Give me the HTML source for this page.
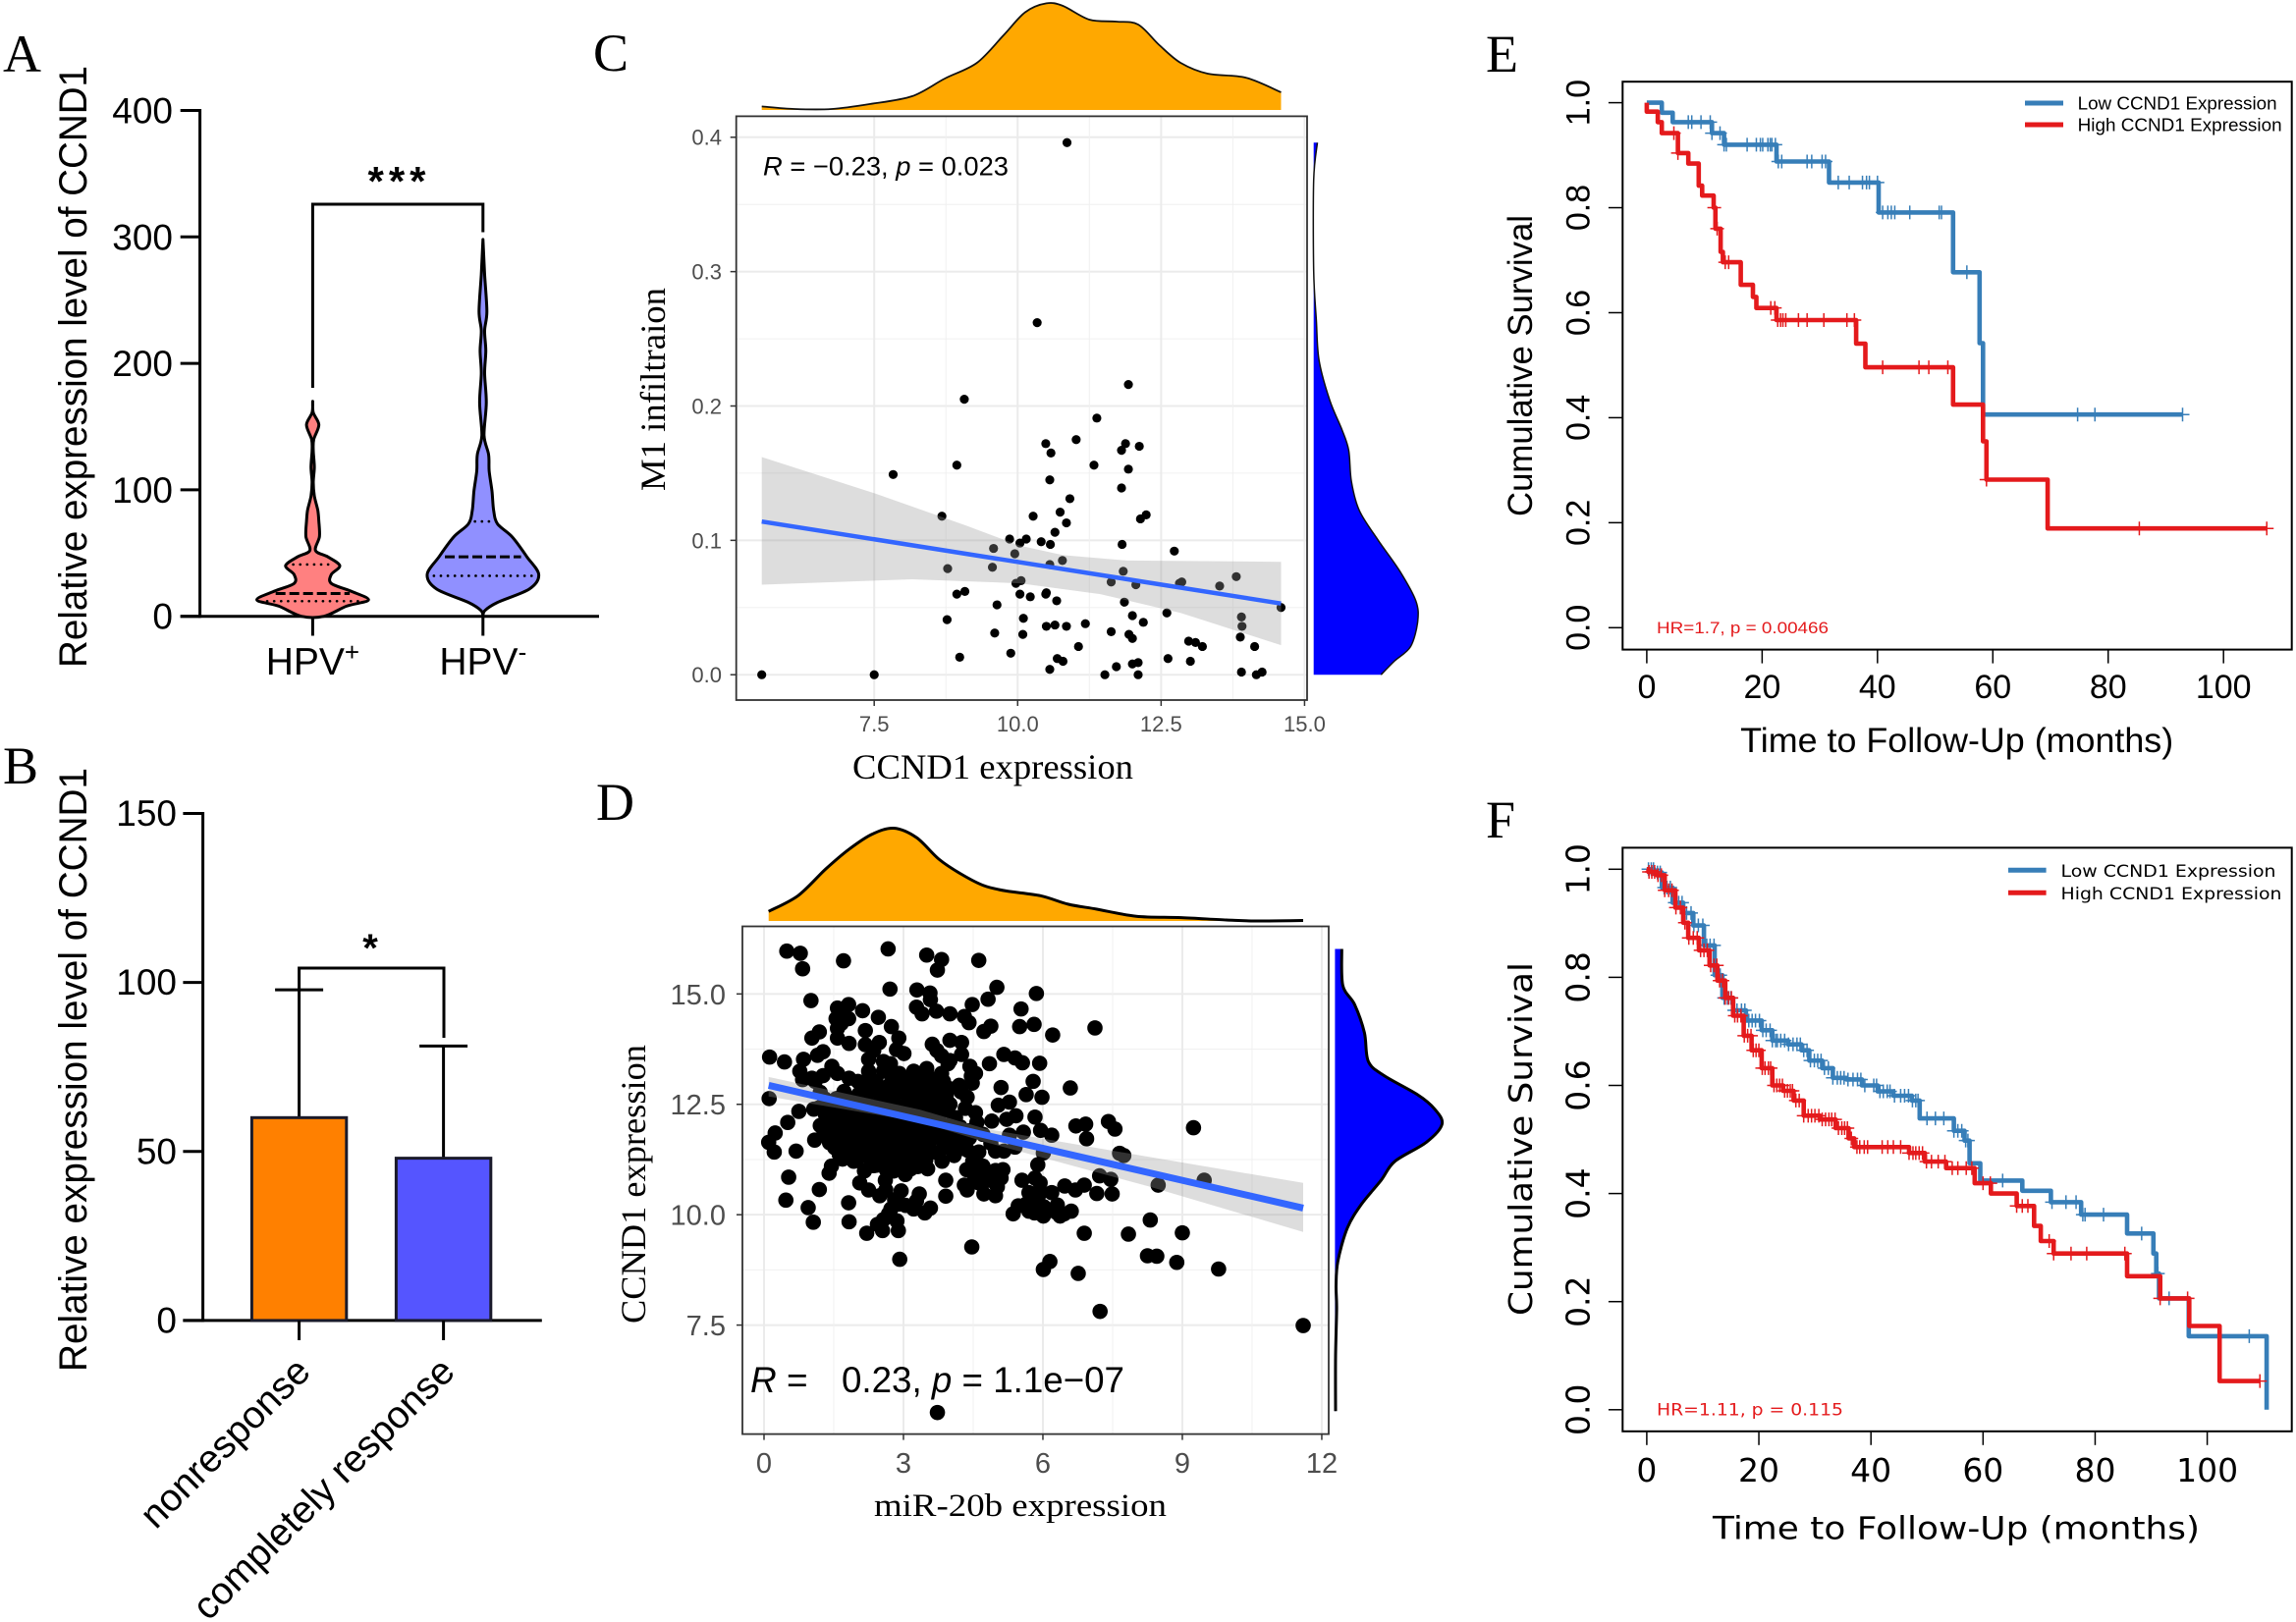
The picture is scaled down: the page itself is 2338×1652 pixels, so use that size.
<!DOCTYPE html>
<html lang="en">
<head>
<meta charset="utf-8">
<title>CCND1 expression figure</title>
<style>
html,body{margin:0;padding:0;background:#fff;}
#figure{display:block;width:2338px;height:1652px;background:#fff;}
text{font-family:"Liberation Sans",sans-serif;fill:#000;}
.serif{font-family:"Liberation Serif",serif;}
.dejavu{font-family:"DejaVu Sans",sans-serif;}
.panel-letter{font-family:"Liberation Serif",serif;font-size:54px;}
</style>
</head>
<body>
<svg id="figure" xmlns="http://www.w3.org/2000/svg" width="2338" height="1652" viewBox="0 0 2338 1652">
  <rect x="0" y="0" width="2338" height="1652" fill="#fff"/>

  <g id="panelA">
    <text class="panel-letter" x="3" y="73">A</text>
    <text transform="translate(88,373.5) rotate(-90)" text-anchor="middle" font-size="40" textLength="613" lengthAdjust="spacingAndGlyphs">Relative expression level of CCND1</text>
    <text x="406.5" y="199" text-anchor="middle" font-size="42" font-weight="bold" letter-spacing="5">***</text>
  </g>

  <g id="panelB">
    <text class="panel-letter" x="3" y="798">B</text>
    <text transform="translate(88,1089.5) rotate(-90)" text-anchor="middle" font-size="40" textLength="615" lengthAdjust="spacingAndGlyphs">Relative expression level of CCND1</text>
    <text x="377" y="979" text-anchor="middle" font-size="40" font-weight="bold">*</text>
  </g>

  <g id="panelC">
    <text class="panel-letter" x="604" y="72">C</text>
    <text class="serif" x="1011" y="793" text-anchor="middle" font-size="36" textLength="286" lengthAdjust="spacingAndGlyphs">CCND1 expression</text>
    <text class="serif" transform="translate(677,396.5) rotate(-90)" text-anchor="middle" font-size="36" textLength="207" lengthAdjust="spacingAndGlyphs">M1 infiltraion</text>
  </g>

  <g id="panelD">
    <text class="panel-letter" x="607" y="835">D</text>
    <text class="serif" x="1039" y="1544" text-anchor="middle" font-size="33" textLength="298" lengthAdjust="spacingAndGlyphs">miR-20b expression</text>
    <text class="serif" transform="translate(657,1206) rotate(-90)" text-anchor="middle" font-size="36" textLength="284" lengthAdjust="spacingAndGlyphs">CCND1 expression</text>
  </g>

  <g id="panelE">
    <text class="panel-letter" x="1513" y="73">E</text>
    <text x="1992.7" y="766" text-anchor="middle" font-size="35" textLength="441" lengthAdjust="spacingAndGlyphs">Time to Follow-Up (months)</text>
    <text transform="translate(1560,372.5) rotate(-90)" text-anchor="middle" font-size="35" textLength="307" lengthAdjust="spacingAndGlyphs">Cumulative Survival</text>
  </g>

  <g id="panelF">
    <text class="panel-letter" x="1513" y="853">F</text>
    <text class="dejavu" x="1992" y="1567.5" text-anchor="middle" font-size="32" textLength="496" lengthAdjust="spacingAndGlyphs">Time to Follow-Up (months)</text>
    <text class="dejavu" transform="translate(1560,1160) rotate(-90)" text-anchor="middle" font-size="33" textLength="360" lengthAdjust="spacingAndGlyphs">Cumulative Survival</text>
  </g>
</svg>

<script>
/* ---------- Panel A data ---------- */
const aTicks = [0, 100, 200, 300, 400];
const aPosValues = [170,161,151.5,140,131,118,106,95,84,75,63,52,47,40,33,26,20,13,8,0];
const aPosDensity = [0,.01,.11,.02,.01,.03,.01,.03,.09,.11,.12,.05,.27,.48,.33,.33,.67,.99,.6,.2];
const aNegValues = [298,270,241,226,210,192,169,143,128,115,99,83.6,73,62.7,47,33,21.5,11,4.6,0];
const aNegDensity = [0,.03,.07,.03,.05,.03,.06,.02,.1,.11,.16,.19,.26,.52,.78,.99,.82,.26,.035,0];
const aPosQuartiles = [12, 18, 41];
const aNegQuartiles = [32, 47, 75];

/* ---------- Panel B data ---------- */
const bTicks = [0, 50, 100, 150];
const bCategories = ["nonresponse", "completely response"];
const bMeans = [60, 48];
const bErrors = [37.8, 33.2];

/* ---------- Panel C data ---------- */
const cXTicks = [7.5, 10, 12.5, 15];
const cXTickLabels = ["7.5", "10.0", "12.5", "15.0"];
const cYTicks = [0, .1, .2, .3, .4];
const cYTickLabels = ["0.0", "0.1", "0.2", "0.3", "0.4"];
const cPoints = [[10.86,.396],[10.34,.262],[11.93,.216],[9.07,.205],[11.38,.191],[11.02,.175],[10.49,.172],[11.88,.172],[12.12,.17],[11.81,.167],[10.58,.165],[8.94,.156],[11.33,.156],[11.93,.153],[7.83,.149],[10.56,.145],[11.81,.139],[10.91,.131],[10.74,.121],[10.27,.118],[8.68,.118],[12.24,.119],[12.14,.116],[10.85,.113],[10.65,.106],[9.86,.101],[10.15,.101],[10.04,.098],[10.41,.099],[10.57,.097],[11.82,.097],[9.58,.094],[12.73,.092],[9.95,.09],[10.78,.085],[10.56,.082],[9.56,.08],[8.78,.079],[11.84,.077],[13.81,.073],[10.06,.07],[9.97,.068],[11.63,.069],[12.06,.067],[12.82,.068],[12.86,.069],[13.52,.066],[8.94,.06],[9.08,.062],[10.04,.06],[10.22,.058],[10.49,.06],[10.5,.061],[10.68,.055],[9.64,.052],[11.86,.054],[14.59,.05],[12.6,.046],[12,.044],[13.9,.043],[8.77,.041],[10.1,.042],[12.19,.039],[11.18,.038],[10.5,.036],[10.65,.037],[10.85,.036],[13.91,.036],[11.63,.032],[9.6,.031],[10.09,.03],[11.94,.03],[12,.027],[13.88,.028],[12.98,.025],[13.1,.024],[13.22,.021],[11.06,.021],[14.13,.021],[9.88,.016],[8.99,.013],[10.69,.012],[10.79,.01],[12.62,.012],[13.01,.01],[12.1,.009],[12,.008],[11.72,.006],[10.56,.004],[13.9,.002],[14.26,.002],[14.16,0],[11.52,0],[12.1,0],[5.54,0],[7.5,0]];
const cTrend = [[5.54,.114],[14.59,.053]];
const cBandUpper = [[5.54,.162],[7.51,.135],[9.1,.111],[10.04,.096],[10.79,.089],[11.91,.085],[14.59,.084]];
const cBandLower = [[5.54,.067],[8.16,.071],[10.04,.068],[11.44,.06],[12.84,.046],[14.59,.022]];
const cTopX = [5.54,6.11,6.76,7.42,8.16,8.73,9.29,9.76,10.13,10.5,10.79,11.25,11.72,12.1,12.47,12.84,13.31,13.97,14.59];
const cTopDensity = [.036,.01,.01,.06,.14,.32,.48,.765,.995,1.086,1.06,.92,.9,.87,.66,.48,.37,.33,.18];
const cRightY = [.396,.368,.301,.264,.234,.204,.182,.167,.144,.122,.1,.077,.055,.04,.021,.01,0];
const cRightDensity = [.038,0,0,.027,.055,.165,.29,.357,.384,.466,.658,.878,1.04,1.06,.987,.82,.686];

/* ---------- Panel D data ---------- */
const dXTicks = [0, 3, 6, 9, 12];
const dYTicks = [7.5, 10, 12.5, 15];
const dYTickLabels = ["7.5", "10.0", "12.5", "15.0"];
const dPoints = [[.49,15.97],[.78,15.92],[.83,15.57],[1.71,15.75],[2.67,16.02],[3.5,15.88],[3.82,15.78],[3.73,15.54],[4.62,15.76],[2.71,15.11],[1.01,14.85],[3.29,15.09],[3.57,15.02],[3.58,14.87],[5.01,15.15],[4.82,14.88],[5.86,15.01],[5.53,14.66],[4.48,14.76],[3.28,14.7],[3.71,14.61],[3.4,14.55],[4,14.55],[4.31,14.49],[4.41,14.35],[4.88,14.27],[4.73,14.15],[5.5,14.26],[5.81,14.31],[7.12,14.23],[6.21,14.07],[1.82,14.76],[1.58,14.68],[2.12,14.62],[2.46,14.47],[1.55,14.44],[1.82,14.44],[2.18,14.17],[2.74,14.26],[1.58,14.22],[1.19,14.14],[1.03,14],[1.58,14],[1.83,13.88],[2.18,13.85],[2.48,13.9],[2.9,14],[4,13.95],[4.25,13.9],[3.62,13.86],[2.85,13.74],[3.01,13.65],[1.27,13.69],[1.15,13.61],[.12,13.57],[.44,13.46],[.85,13.52],[2.25,13.52],[2.57,13.47],[3.82,13.6],[4,13.49],[4.25,13.63],[5.16,13.63],[5.4,13.55],[5.56,13.44],[4.85,13.42],[5.93,13.43],[.77,13.25],[1.46,13.36],[2.25,13.25],[2.57,13.25],[3.5,13.31],[4.43,13.36],[4.55,13.2],[2.91,13.2],[3.22,13.25],[1.58,13.2],[1.27,13.15],[1.03,13.09],[.83,13.06],[1.83,13.09],[3.82,13.2],[4.48,12.98],[5.79,13.02],[6.59,12.87],[5.1,12.88],[5.98,12.66],[5.64,12.72],[4.2,12.93],[3.6,12.88],[1.21,12.77],[.11,12.63],[4.37,12.66],[1.07,12.39],[.75,12.34],[5.28,12.55],[5.04,12.48],[4,12.5],[4.55,12.31],[5.42,12.24],[5.83,12.21],[.51,12.09],[.24,11.85],[.1,11.64],[.22,11.42],[.69,11.44],[1.09,11.69],[4.9,12.12],[4.58,12.09],[6.71,12.01],[6.92,12.05],[7.41,12.11],[7.55,11.94],[6.94,11.72],[9.24,11.97],[6.19,11.8],[5.95,11.91],[5.28,11.8],[5.58,11.87],[7.65,11.39],[7.74,11.34],[5.4,11.53],[5.16,11.44],[4.98,11.44],[6.01,11.4],[5.89,11.13],[4.49,11.21],[4.71,11.1],[3.83,11.21],[1.45,11.1],[1.4,10.94],[.53,10.85],[1.19,10.57],[.47,10.33],[.95,10.16],[1.06,9.83],[1.82,10.27],[1.83,9.84],[2.21,9.58],[2.55,9.64],[2.89,9.64],[2.92,8.99],[4.47,9.27],[6.01,8.76],[6.15,8.94],[6.76,8.67],[6.89,9.58],[7.84,9.56],[7.23,7.81],[8.31,9.88],[9,9.59],[8.25,9.07],[8.45,9.06],[8.88,8.92],[9.78,8.77],[11.6,7.49],[3.73,5.52],[8.48,10.67],[9.47,10.78],[7.22,10.88],[7.46,10.8],[7.16,10.48],[7.49,10.47],[6.47,10.65],[6.7,10.56],[6.89,10.67],[6.19,10.5],[5.36,10.02],[5.7,10.08],[6.01,9.97],[6.37,9.97],[6.61,10.08],[5.64,10.24],[5.89,10.34],[6.31,10.22],[5.7,10.5],[5.95,10.5],[5.55,10.78],[5.83,10.83],[4.98,10.43],[4.73,10.47],[4.37,10.56],[4.31,10.67],[5.1,10.83],[4.85,10.78],[4.61,10.97],[4.98,11],[3.91,10.78],[3.91,10.42],[3.58,10.15],[3.46,10.04],[3.22,10.13],[3.34,10.47],[2.95,10.54],[2.73,10.13],[2.57,9.89],[2.91,10.24],[2.49,10.43],[2.25,10.56],[2.06,10.72],[2.16,10.99],[2.61,10.78],[2.79,10.99],[3.16,11.04],[3.52,11.04],[1.69,11.26],[1.93,11.21],
[2.41,13.02],[2.72,12.96],[3.03,13.05],[3.31,12.98],[3.64,13.07],[1.72,12.79],[2.03,12.72],[2.38,12.81],[2.69,12.7],[3.02,12.78],[3.29,12.71],[3.61,12.76],[3.92,12.7],[1.41,12.52],[1.68,12.47],[2.04,12.55],[2.33,12.46],[2.62,12.53],[2.88,12.44],[3.21,12.52],[3.49,12.46],[3.83,12.41],[1.32,12.27],[1.63,12.21],[1.9,12.29],[2.23,12.2],[2.51,12.27],[2.81,12.19],[3.12,12.26],[3.38,12.18],[3.72,12.24],[4.12,12.2],[1.21,12.02],[1.52,11.96],[1.83,12.03],[2.1,11.95],[2.42,12.04],[2.7,11.97],[3.01,12.02],[3.32,11.94],[3.6,12.03],[3.93,11.96],[4.22,11.99],[1.33,11.78],[1.61,11.71],[1.92,11.76],[2.19,11.7],[2.53,11.77],[2.79,11.72],[3.14,11.78],[3.41,11.71],[3.72,11.76],[4.03,11.7],[4.42,11.74],[1.52,11.52],[1.81,11.46],[2.12,11.53],[2.39,11.47],[2.72,11.52],[3.01,11.46],[3.28,11.51],[3.59,11.45],[4.02,11.5],[4.38,11.46],[2.02,11.27],[2.31,11.22],[2.58,11.28],[2.93,11.23],[3.22,11.29],[3.48,11.24],[2.63,11.02],[3.04,10.91],[1.31,12.62],[1.42,11.88],[1.18,12.42],[1.62,11.36],[4.33,12.41],[4.71,11.82],[4.18,11.48],[4.62,11.42],[4.88,11.62],[5.22,12.16],[2.28,13.1],[2.76,13.22],[3.44,13.12],[2.02,13.02],
[2.21,12.89],[2.56,12.86],[2.84,12.91],[3.16,12.85],[3.46,12.9],[3.76,12.87],[1.56,12.63],[1.86,12.6],[2.19,12.65],[2.51,12.6],[2.79,12.64],[3.11,12.59],[3.36,12.64],[3.66,12.6],[3.94,12.56],[1.46,12.37],[1.74,12.34],[2.06,12.39],[2.36,12.33],[2.64,12.38],[3.01,12.34],[3.26,12.38],[3.54,12.33],[3.91,12.36],[1.36,12.13],[1.69,12.09],[1.96,12.14],[2.31,12.1],[2.56,12.14],[2.86,12.09],[3.16,12.13],[3.49,12.08],[3.76,12.13],[4.06,12.09],[1.29,11.89],[1.66,11.85],[2.01,11.9],[2.31,11.84],[2.61,11.89],[2.91,11.85],[3.19,11.9],[3.51,11.84],[3.86,11.89],[4.16,11.85],[4.41,11.9],[1.41,11.63],[1.74,11.59],[2.06,11.64],[2.36,11.6],[2.64,11.63],[2.96,11.59],[3.26,11.64],[3.54,11.6],[3.86,11.63],[4.21,11.59],[1.91,11.39],[2.21,11.34],[2.49,11.38],[2.81,11.34],[3.11,11.39],[3.41,11.34],[3.76,11.38],[4.09,11.34],[2.41,11.12],[2.76,11.09],[3.06,11.13],[3.31,11.09],
[4.36,11.02],[4.86,10.88],[5.14,11.02],[4.62,10.72],[5.02,10.63],[4.53,10.82],[5.94,10.72],[6.02,10.18],[6.28,10.06],[5.47,10.2],[5.82,10.04],[6.46,10.02],[2.62,10.56],[2.81,10.34],[3.05,10.21],[2.68,10.02],[2.86,9.86],[3.28,10.31],[2.44,9.78],[2.36,11.11],[1.1,13.02],[2.72,13.42],[2.36,13.72],[1.72,14.56],[1.66,14.33],[3.72,13.72],[3.96,13.42],[3.86,13.02],[4.46,13.14],[4.24,12.78],[3.98,12.86]];
const dTrend = [[.1,12.93],[11.6,10.15]];
const dBandUpper = [[.1,13.12],[3.35,12.38],[4.75,11.95],[8.28,11.31],[11.6,10.72]];
const dBandLower = [[.1,12.68],[3.35,12.1],[4.75,11.65],[8.28,10.64],[11.6,9.61]];
const dTopX = [.1,.73,1.33,1.82,2.31,2.79,3.28,3.76,4.25,4.73,5.22,5.95,6.55,7.16,8.01,8.98,9.95,10.56,11.6];
const dTopDensity = [.097,.257,.53,.727,.88,.945,.85,.63,.475,.36,.305,.257,.17,.12,.048,.034,.01,0,.005];
const dRightY = [16.02,15.19,14.76,14.12,13.47,13.15,12.72,12.39,12.05,11.64,11.21,10.78,10.24,9.7,8.94,8.4,7.87,6.79,5.55];
const dRightDensity = [.069,.08,.2,.3,.34,.5,.84,1.016,1.09,.93,.61,.47,.27,.126,.029,.011,.017,.006,.006];

/* ---------- Panel E data ---------- */
const survTicks = [0, .2, .4, .6, .8, 1];
const survTickLabels = ["0.0", "0.2", "0.4", "0.6", "0.8", "1.0"];
const monthTicks = [0, 20, 40, 60, 80, 100];
const eLowTimes = [2.6,4.5,11.3,13.4,22.5,31.6,40.2,53.1,57.7,58.3];
const eLowSurv = [.981,.963,.942,.92,.888,.848,.791,.677,.542,.406];
const eLowEnd = 92.9;
const eLowCensor = [7.2,7.8,9.4,11,11.3,12.7,13.4,13.8,17.4,19,19.7,20.1,21,21.4,21.7,22.3,22.8,23.4,27.8,28.6,30.4,31,33.2,35.1,37.4,38.1,38.6,40,40.9,41.8,42.4,43,45.6,50.7,51.1,55.5,74.7,77.7,92.9];
const eHighTimes = [0,1.9,2.6,5.4,7.2,9,9.6,11.6,11.9,12.8,13.2,16.3,18.4,19,22.5,36.3,37.9,53.1,58.3,58.9,69.5];
const eHighSurv = [.983,.963,.942,.904,.884,.842,.823,.8,.76,.716,.696,.653,.63,.609,.586,.541,.496,.425,.355,.282,.189];
const eHighEnd = 107.5;
const eHighCensor = [4.7,5.4,11.7,12.2,13.6,14.2,21.5,22.2,22.7,23.2,23.6,24.1,26.3,27.8,30.7,34.7,36,40.9,47.2,48.9,52.2,58.9,85.4,107.5];

/* ---------- Panel F data ---------- */
const fLowTimes = [1.3,2.7,4.6,6.5,8.3,10.2,12.1,13.5,15.4,17.7,20.5,22.4,25.2,27.6,29,31.3,33.2,35.6,38.4,41.2,44,47.3,48.7,54.8,56.7,57.6,59.5,67,72.1,77.5,85.7,90.4,90.9,91.4,96.7,110.6];
const fLowSurv = [.994,.966,.938,.919,.896,.859,.804,.762,.739,.72,.702,.683,.676,.665,.646,.632,.614,.611,.6,.589,.581,.572,.539,.516,.498,.456,.424,.405,.384,.361,.326,.289,.252,.206,.136,0];
const fLowEnd = 110.6;
const fLowCensor = [.3,.8,1.2,1.9,2.4,3.1,3.6,4.2,5,5.7,6.3,7.1,7.9,8.4,9.2,10,10.7,11.3,12,12.6,13.1,13.8,14.4,15,15.6,16.1,16.9,17.5,18.2,18.8,19.4,20.1,20.7,21.3,22,22.4,23,23.3,23.9,24.6,25.3,26.1,26.8,27.4,28,28.6,29.2,29.9,30.5,31.1,31.7,32.4,33.2,34,34.6,35.2,35.9,36.8,37.6,38.2,38.9,40.5,41,41.6,42.2,42.9,43.4,44.2,45.3,46,46.7,47.4,48,48.4,50,51.5,53,54.8,55.5,56.2,56.9,57.3,63.5,72.3,74.8,76.6,77.8,78.2,81.5,88.3,91.2,93.2,107.5];
const fHighTimes = [0.3,1.8,3.2,5.1,6.5,7.4,9.3,11.2,12.6,14,15.4,17.3,18.7,20.5,22.4,24.3,26.2,28,30.9,33.7,36,37,46.8,49.6,53.4,58.5,61.4,66,69.1,70.3,72.6,85.7,91.6,96.8,102.2];
const fHighSurv = [.995,.989,.961,.929,.901,.873,.85,.822,.794,.762,.729,.692,.665,.632,.6,.59,.572,.544,.537,.521,.502,.486,.475,.459,.447,.419,.4,.377,.34,.312,.289,.247,.206,.155,.053];
const fHighEnd = 109.4;
const fHighCensor = [.4,.9,1.4,2,2.6,3.2,3.9,4.5,5.2,6,6.8,7.5,8.3,9,9.6,10.2,10.8,11.4,12,12.5,13,13.5,14,14.6,15.1,15.7,16.2,16.8,17.4,18,18.6,19,19.5,20,20.6,21.1,21.7,22.1,22.7,23.2,23.7,24.2,24.6,25.1,25.6,26,26.6,27.2,28,28.8,29.4,30,30.7,31.3,31.9,32.5,33,33.6,34.2,34.8,35.3,35.8,36.5,37.5,38,38.8,39.4,42,43,44,45.3,46.8,47.5,48,48.6,49.2,49.9,50.8,52,53.2,54.5,55.5,57,58,60,61.3,66,67,68,71.8,72.6,75.7,78.5,85.3,91.6,96.5,109.4];

/* ---------- Helpers ---------- */
const NS = "http://www.w3.org/2000/svg";
function node(parent, tag, attrs, name) {
  const el = document.createElementNS(NS, tag);
  for (const k in attrs) el.setAttribute(k, attrs[k]);
  
  
  parent.appendChild(el);
  return el;
}
function seg(parent, x1, y1, x2, y2, stroke, width, name, dash, cap) {
  const attrs = {x1: x1, y1: y1, x2: x2, y2: y2, stroke: stroke, 'stroke-width': width};
  if (dash) attrs['stroke-dasharray'] = dash;
  if (cap) attrs['stroke-linecap'] = cap;
  return node(parent, 'line', attrs, name);
}
function label(parent, x, y, str, size, anchor, fill, name, extra) {
  const attrs = {x: x, y: y, 'font-size': size, 'text-anchor': anchor, style: 'fill:' + fill};
  if (extra) for (const k in extra) attrs[k] = extra[k];
  const el = node(parent, 'text', attrs, name);
  el.textContent = str;
  return el;
}
function smooth(pts) {
  let d = 'M' + pts[0][0].toFixed(1) + ' ' + pts[0][1].toFixed(1);
  for (let i = 0; i < pts.length - 1; i++) {
    const p0 = pts[Math.max(i - 1, 0)], p1 = pts[i], p2 = pts[i + 1], p3 = pts[Math.min(i + 2, pts.length - 1)];
    const k = 0.16;
    d += ' C' + (p1[0] + (p2[0] - p0[0]) * k).toFixed(1) + ' ' + (p1[1] + (p2[1] - p0[1]) * k).toFixed(1) + ' ' +
         (p2[0] - (p3[0] - p1[0]) * k).toFixed(1) + ' ' + (p2[1] - (p3[1] - p1[1]) * k).toFixed(1) + ' ' +
         p2[0].toFixed(1) + ' ' + p2[1].toFixed(1);
  }
  return d;
}
function interp(xs, ys, v) {
  for (let i = 0; i < xs.length - 1; i++) {
    const a = xs[i], b = xs[i + 1];
    if ((v <= a && v >= b) || (v >= a && v <= b)) return ys[i] + (ys[i + 1] - ys[i]) * (v - a) / (b - a);
  }
  return 0;
}
const panelA = document.getElementById('panelA');
const panelB = document.getElementById('panelB');
const panelC = document.getElementById('panelC');
const panelD = document.getElementById('panelD');
const panelE = document.getElementById('panelE');
const panelF = document.getElementById('panelF');

/* ---------- Panel A ---------- */
(function () {
  const y = v => 627.7 - v * 1.288;
  const w = d => d * 57.4;
  seg(panelA, 203.6, y(400) - 1.5, 203.6, y(0) + 1.5, '#000', 3, 'y-axis-a');
  seg(panelA, 183.7, y(0), 610, y(0), '#000', 3, 'x-axis-a');
  aTicks.forEach(t => {
    seg(panelA, 183.7, y(t), 203.6, y(t), '#000', 3, 'y-tick-a');
    label(panelA, 176, y(t) + 13, String(t), 37, 'end', '#000', 'y-tick-label-a');
  });
  function violin(values, dens, cx, fill, quarts, nm) {
    const left = values.map((v, i) => [cx - w(dens[i]), y(v)]);
    const right = values.map((v, i) => [cx + w(dens[i]), y(v)]).reverse();
    const pts = left.concat(right);
    node(panelA, 'path', {d: smooth(pts) + ' Z', fill: fill, stroke: '#000', 'stroke-width': 3, 'stroke-linejoin': 'round'}, 'violin-' + nm);
    quarts.forEach((q, i) => {
      const hw = w(interp(values, dens, q)) - 6;
      if (i === 1) {
        seg(panelA, cx - hw, y(q), cx + hw, y(q), '#000', 3, 'violin-median-' + nm, '10 4');
      } else {
        seg(panelA, cx - hw, y(q), cx + hw, y(q), '#000', 2.6, 'violin-quartile-' + nm, '0.1 7', 'round');
      }
    });
  }
  violin(aPosValues, aPosDensity, 318.4, '#ff8080', aPosQuartiles, 'hpv-positive');
  violin(aNegValues, aNegDensity, 491.8, '#9090ff', aNegQuartiles, 'hpv-negative');
  seg(panelA, 318.4, y(0), 318.4, 647.5, '#000', 3, 'x-tick-a');
  seg(panelA, 491.8, y(0), 491.8, 647.5, '#000', 3, 'x-tick-a');
  const lp = label(panelA, 318.4, 687, 'HPV', 39, 'middle', '#000', 'x-tick-label-hpv-positive');
  const spP = node(lp, 'tspan', {dy: -14, 'font-size': 26}, 'superscript-plus');
  spP.textContent = '+';
  const ln = label(panelA, 491.8, 687, 'HPV', 39, 'middle', '#000', 'x-tick-label-hpv-negative');
  const spN = node(ln, 'tspan', {dy: -14, 'font-size': 26}, 'superscript-minus');
  spN.textContent = '-';
  node(panelA, 'path', {d: 'M318.4 395 V208 H491.8 V236.5', fill: 'none', stroke: '#000', 'stroke-width': 3}, 'significance-bracket-a');
})();

/* ---------- Panel B ---------- */
(function () {
  const y = v => 1344.9 - v * 3.443;
  const centers = [304.6, 451.6];
  const fills = ['#ff8000', '#5555ff'];
  seg(panelB, 206.6, y(150) - 1.5, 206.6, y(0) + 1.5, '#000', 3, 'y-axis-b');
  seg(panelB, 186.4, y(0), 551.8, y(0), '#000', 3, 'x-axis-b');
  bTicks.forEach(t => {
    seg(panelB, 186.4, y(t), 206.6, y(t), '#000', 3, 'y-tick-b');
    label(panelB, 180, y(t) + 12.5, String(t), 37, 'end', '#000', 'y-tick-label-b');
  });
  bMeans.forEach((m, i) => {
    const c = centers[i];
    const top = y(m + bErrors[i]);
    seg(panelB, c, y(m), c, top, '#000', 3, 'error-bar-' + bCategories[i].replace(' ', '-'));
    seg(panelB, c - 24.5, top, c + 24.5, top, '#000', 3, 'error-cap-' + bCategories[i].replace(' ', '-'));
    node(panelB, 'rect', {x: c - 48.2, y: y(m), width: 96.4, height: y(0) - y(m), fill: fills[i], stroke: '#1a1a2a', 'stroke-width': 3}, 'bar-' + bCategories[i].replace(' ', '-'));
    seg(panelB, c, y(0), c, 1365, '#000', 3, 'x-tick-b');
    const ex = c + 13.5;
    label(panelB, 0, 0, bCategories[i], 39, 'end', '#000', 'x-tick-label-' + bCategories[i].replace(' ', '-'), {transform: 'translate(' + ex + ',1399) rotate(-45)'});
  });
  node(panelB, 'path', {d: 'M304.6 1008 V986 H452 V1057', fill: 'none', stroke: '#000', 'stroke-width': 3}, 'significance-bracket-b');
})();

/* ---------- Shared ggplot-style scatter ---------- */
function scatterFrame(g, box, x, y, xTicks, xLabels, yTicks, yLabels, font, xBase, yRight, tag) {
  node(g, 'rect', {x: box.l, y: box.t, width: box.r - box.l, height: box.b - box.t, fill: '#fff'}, 'plot-background-' + tag);
  yTicks.forEach((t, i) => {
    if (i < yTicks.length - 1) {
      const m = y((t + yTicks[i + 1]) / 2);
      seg(g, box.l, m, box.r, m, '#f0f0f0', 1, 'minor-gridline-' + tag);
    }
    seg(g, box.l, y(t), box.r, y(t), '#ebebeb', 2, 'major-gridline-' + tag);
  });
  xTicks.forEach((t, i) => {
    if (i < xTicks.length - 1) {
      const m = x((t + xTicks[i + 1]) / 2);
      seg(g, m, box.t, m, box.b, '#f0f0f0', 1, 'minor-gridline-' + tag);
    }
    seg(g, x(t), box.t, x(t), box.b, '#ebebeb', 2, 'major-gridline-' + tag);
  });
  xTicks.forEach((t, i) => {
    seg(g, x(t), box.b, x(t), box.b + 6, '#333', 1.5, 'x-tick-' + tag);
    label(g, x(t), xBase, xLabels[i], font, 'middle', '#4d4d4d', 'x-tick-label-' + tag);
  });
  yTicks.forEach((t, i) => {
    seg(g, box.l - 6, y(t), box.l, y(t), '#333', 1.5, 'y-tick-' + tag);
    label(g, yRight, y(t) + font * .36, yLabels[i], font, 'end', '#4d4d4d', 'y-tick-label-' + tag);
  });
}
function bandPath(x, y, upper, lower) {
  const pts = upper.concat(lower.slice().reverse());
  return 'M' + pts.map(p => x(p[0]).toFixed(1) + ' ' + y(p[1]).toFixed(1)).join(' L') + ' Z';
}

/* ---------- Panel C ---------- */
(function () {
  const box = {l: 749.7, r: 1331, t: 118.4, b: 713};
  const x = v => 890.2 + (v - 7.5) * 58.43;
  const y = v => 687.2 - v * 1368.5;
  const topScale = d => 112 - d * 100;
  const rightScale = d => 1337.7 + d * 100;
  scatterFrame(panelC, box, x, y, cXTicks, cXTickLabels, cYTicks, cYTickLabels, 22, 745, 735, 'c');
  cPoints.forEach(p => {
    node(panelC, 'circle', {cx: x(p[0]), cy: y(p[1]), r: 4.6, fill: '#000'}, 'scatter-point-c');
  });
  node(panelC, 'path', {d: bandPath(x, y, cBandUpper, cBandLower), fill: '#999', 'fill-opacity': .33}, 'confidence-band-c');
  seg(panelC, x(cTrend[0][0]), y(cTrend[0][1]), x(cTrend[1][0]), y(cTrend[1][1]), '#3366ff', 4.5, 'trend-line-c');
  node(panelC, 'rect', {x: box.l, y: box.t, width: box.r - box.l, height: box.b - box.t, fill: 'none', stroke: '#333', 'stroke-width': 1.8}, 'plot-border-c');
  const topPts = cTopX.map((v, i) => [x(v), topScale(cTopDensity[i])]);
  node(panelC, 'path', {d: smooth(topPts) + ' L' + x(cTopX[cTopX.length - 1]) + ' 112 L' + x(cTopX[0]) + ' 112 Z', fill: '#ffa800'}, 'top-density-fill-c');
  node(panelC, 'path', {d: smooth(topPts), fill: 'none', stroke: '#111', 'stroke-width': 1.8}, 'top-density-line-c');
  const rightPts = cRightY.map((v, i) => [rightScale(cRightDensity[i]), y(v)]);
  node(panelC, 'path', {d: smooth(rightPts) + ' L1337.7 ' + y(0) + ' L1337.7 ' + y(cRightY[0]) + ' Z', fill: '#0000ff'}, 'right-density-fill-c');
  node(panelC, 'path', {d: smooth(rightPts), fill: 'none', stroke: '#111', 'stroke-width': 1.5}, 'right-density-line-c');
  const t = label(panelC, 777, 178.5, '', 27, 'start', '#000', 'correlation-annotation-c', {textLength: 250, lengthAdjust: 'spacingAndGlyphs'});
  const r = node(t, 'tspan', {'font-style': 'italic'}, 'annotation-r-symbol-c');
  r.textContent = 'R';
  const mid = node(t, 'tspan', {}, 'annotation-r-value-c');
  mid.textContent = ' = \u22120.23, ';
  const pp = node(t, 'tspan', {'font-style': 'italic'}, 'annotation-p-symbol-c');
  pp.textContent = 'p';
  const end = node(t, 'tspan', {}, 'annotation-p-value-c');
  end.textContent = ' = 0.023';
})();

/* ---------- Panel D ---------- */
(function () {
  const box = {l: 756, r: 1353, t: 943.5, b: 1460.6};
  const x = v => 778 + v * 47.33;
  const y = v => 1349.6 - (v - 7.5) * 44.97;
  const topScale = d => 938 - d * 100;
  const rightScale = d => 1359.4 + d * 100;
  scatterFrame(panelD, box, x, y, dXTicks, dXTicks.map(String), dYTicks, dYTickLabels, 29, 1500, 739, 'd');
  dPoints.forEach(p => {
    node(panelD, 'circle', {cx: x(p[0]), cy: y(p[1]), r: 7.8, fill: '#000'}, 'scatter-point-d');
  });
  node(panelD, 'path', {d: bandPath(x, y, dBandUpper, dBandLower), fill: '#999', 'fill-opacity': .33}, 'confidence-band-d');
  seg(panelD, x(dTrend[0][0]), y(dTrend[0][1]), x(dTrend[1][0]), y(dTrend[1][1]), '#3366ff', 7, 'trend-line-d');
  node(panelD, 'rect', {x: box.l, y: box.t, width: box.r - box.l, height: box.b - box.t, fill: 'none', stroke: '#333', 'stroke-width': 1.8}, 'plot-border-d');
  const topPts = dTopX.map((v, i) => [x(v), topScale(dTopDensity[i])]);
  node(panelD, 'path', {d: smooth(topPts) + ' L' + x(dTopX[dTopX.length - 1]) + ' 938 L' + x(dTopX[0]) + ' 938 Z', fill: '#ffa800'}, 'top-density-fill-d');
  node(panelD, 'path', {d: smooth(topPts), fill: 'none', stroke: '#000', 'stroke-width': 3}, 'top-density-line-d');
  const rightPts = dRightY.map((v, i) => [rightScale(dRightDensity[i]), y(v)]);
  node(panelD, 'path', {d: smooth(rightPts) + ' L1359.4 ' + y(dRightY[dRightY.length - 1]) + ' L1359.4 ' + y(dRightY[0]) + ' Z', fill: '#0000ff'}, 'right-density-fill-d');
  node(panelD, 'path', {d: smooth(rightPts), fill: 'none', stroke: '#000', 'stroke-width': 3}, 'right-density-line-d');
  const a = label(panelD, 764, 1418, '', 37, 'start', '#000', 'correlation-r-label-d');
  const r = node(a, 'tspan', {'font-style': 'italic'}, 'annotation-r-symbol-d');
  r.textContent = 'R';
  const eq = node(a, 'tspan', {}, 'annotation-equals-d');
  eq.textContent = ' =';
  const b = label(panelD, 857, 1418, '', 37, 'start', '#000', 'correlation-value-d', {textLength: 288, lengthAdjust: 'spacingAndGlyphs'});
  const v1 = node(b, 'tspan', {}, 'annotation-r-value-d');
  v1.textContent = '0.23, ';
  const pp = node(b, 'tspan', {'font-style': 'italic'}, 'annotation-p-symbol-d');
  pp.textContent = 'p';
  const v2 = node(b, 'tspan', {}, 'annotation-p-value-d');
  v2.textContent = ' = 1.1e\u221207';
})();

/* ---------- Panels E and F ---------- */
function survivalPlot(g, o) {
  const x = v => o.x0 + v * o.xk;
  const y = v => o.y0 - v * o.yk;
  const cls = o.cls;
  node(g, 'rect', {x: o.l, y: o.t, width: o.r - o.l, height: o.b - o.t, fill: 'none', stroke: '#000', 'stroke-width': 2}, 'plot-box-' + o.tag);
  monthTicks.forEach(t => {
    seg(g, x(t), o.b, x(t), o.b + 14, '#000', 1.5, 'x-tick-' + o.tag);
    label(g, x(t), o.xBase, String(t), o.tickFont, 'middle', '#000', 'x-tick-label-' + o.tag, {class: cls});
  });
  survTicks.forEach((t, i) => {
    seg(g, o.l - 14.4, y(t), o.l, y(t), '#000', 1.5, 'y-tick-' + o.tag);
    label(g, 0, 0, survTickLabels[i], o.tickFont, 'middle', '#000', 'y-tick-label-' + o.tag, {class: cls, transform: 'translate(1618.6,' + y(t) + ') rotate(-90)'});
  });
  function curve(times, surv, end, censor, color, nm) {
    let d = 'M' + x(0).toFixed(1) + ' ' + y(1).toFixed(1);
    times.forEach((t, i) => {
      d += ' H' + x(t).toFixed(1) + ' V' + y(surv[i]).toFixed(1);
    });
    d += ' H' + x(end).toFixed(1);
    node(g, 'path', {d: d, fill: 'none', stroke: color, 'stroke-width': 4.6, 'stroke-linejoin': 'round'}, 'survival-curve-' + nm);
    censor.forEach(c => {
      let s = 1;
      times.forEach((t, i) => { if (t <= c) s = surv[i]; });
      node(g, 'path', {d: 'M' + (x(c) - 7) + ' ' + y(s) + ' h14 M' + x(c) + ' ' + (y(s) - 7) + ' v14', stroke: color, 'stroke-width': 1.5, fill: 'none'}, 'censor-mark-' + nm);
    });
  }
  curve(o.low[0], o.low[1], o.low[2], o.low[3], '#377eb8', 'low-' + o.tag);
  curve(o.high[0], o.high[1], o.high[2], o.high[3], '#e41a1c', 'high-' + o.tag);
  seg(g, o.legX1, o.legY[0], o.legX2, o.legY[0], '#377eb8', 5, 'legend-line-low-' + o.tag);
  seg(g, o.legX1, o.legY[1], o.legX2, o.legY[1], '#e41a1c', 5, 'legend-line-high-' + o.tag);
  label(g, o.legT, o.legY[0] + 6.5, 'Low CCND1 Expression', o.legFont, 'start', '#000', 'legend-label-low-' + o.tag, {class: cls, textLength: o.legW[0], lengthAdjust: 'spacingAndGlyphs'});
  label(g, o.legT, o.legY[1] + 6.5, 'High CCND1 Expression', o.legFont, 'start', '#000', 'legend-label-high-' + o.tag, {class: cls, textLength: o.legW[1], lengthAdjust: 'spacingAndGlyphs'});
  label(g, 1687, o.hrBase, o.hr, 17, 'start', '#e41a1c', 'hazard-ratio-annotation-' + o.tag, {class: cls, textLength: o.hrW, lengthAdjust: 'spacingAndGlyphs'});
}
survivalPlot(panelE, {tag: 'e', cls: '', x0: 1676.9, xk: 5.873, y0: 639.3, yk: 534.7, l: 1652.3, r: 2333.7, t: 83.2, b: 661.6,
  xBase: 711, tickFont: 34, low: [eLowTimes, eLowSurv, eLowEnd, eLowCensor], high: [eHighTimes, eHighSurv, eHighEnd, eHighCensor],
  legX1: 2062, legX2: 2101, legY: [105, 127], legT: 2115.6, legFont: 18.5, legW: [203, 208], hrBase: 645, hr: 'HR=1.7, p = 0.00466', hrW: 175});
survivalPlot(panelF, {tag: 'f', cls: 'dejavu', x0: 1676.9, xk: 5.707, y0: 1435.8, yk: 550.5, l: 1652.3, r: 2333.7, t: 863.4, b: 1457.8,
  xBase: 1509, tickFont: 33, low: [fLowTimes, fLowSurv, fLowEnd, fLowCensor], high: [fHighTimes, fHighSurv, fHighEnd, fHighCensor],
  legX1: 2045, legX2: 2083.6, legY: [886.3, 909.3], legT: 2098.5, legFont: 17, legW: [219, 225], hrBase: 1441.4, hr: 'HR=1.11, p = 0.115', hrW: 190});
</script>
</body>
</html>
